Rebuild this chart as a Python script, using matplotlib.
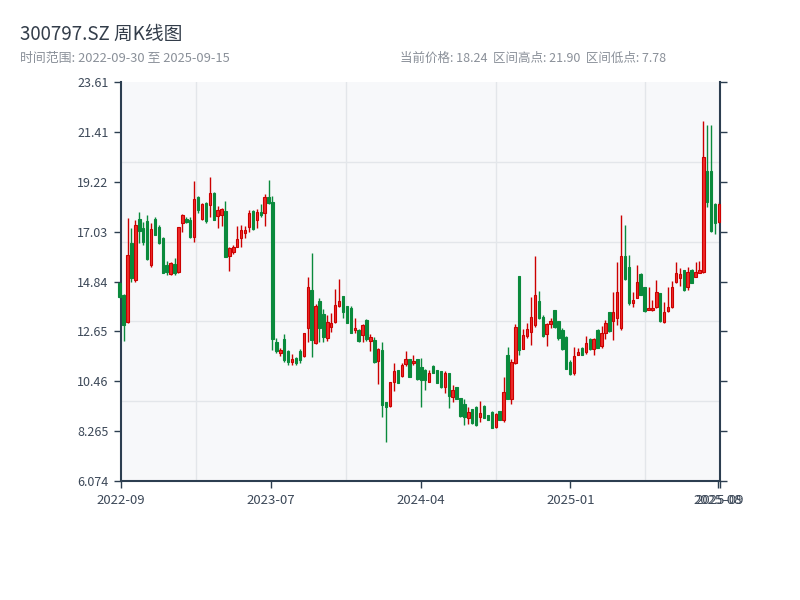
#!/usr/bin/env python3
# -*- coding: utf-8 -*-
"""Weekly candlestick chart for 300797.SZ."""

import numpy as np
import matplotlib
matplotlib.use("Agg")
import matplotlib.pyplot as plt
from matplotlib.ticker import FixedLocator

# Font: CJK first, DejaVu as fallback
plt.rcParams["font.family"] = ["Noto Sans CJK SC", "DejaVu Sans"]

# =============================================================================
# DATA (weekly OHLC)
# =============================================================================

open_prices = [
    14.76, 14.25, 13.07, 16.52, 14.91, 17.57, 17.20, 17.50, 15.56, 17.60,
    17.25, 16.75, 15.55, 15.17, 15.60, 15.27, 17.40, 17.60, 17.55, 16.81,
    18.55, 17.60, 18.30, 18.20, 18.75, 17.70, 17.76, 17.95, 15.96, 16.15,
    16.37, 16.74, 16.96, 17.25, 17.95, 17.54, 17.88, 17.84, 18.54, 18.35,
    12.20, 11.71, 12.30, 11.80, 11.32, 11.50, 11.80, 11.57, 12.78, 14.47,
    12.12, 14.00, 13.40, 12.34, 12.85, 13.07, 13.78, 14.20, 13.76, 13.70,
    12.70, 12.72, 12.49, 13.17, 12.24, 12.27, 11.34, 11.83, 9.53, 9.38,
    10.44, 10.95, 10.70, 11.21, 11.42, 11.24, 11.42, 11.10, 10.95, 10.44,
    11.13, 10.95, 10.90, 10.19, 10.80, 9.75, 10.19, 9.73, 9.48, 8.83,
    9.24, 9.34, 8.90, 9.38, 8.97, 9.12, 8.46, 9.16, 8.75, 11.60,
    9.70, 11.27, 15.08, 11.86, 12.44, 12.63, 12.93, 14.00, 13.30, 12.52,
    12.97, 13.58, 13.10, 12.70, 12.42, 11.30, 10.80, 11.62, 11.92, 11.75,
    12.30, 11.86, 12.73, 12.00, 12.59, 13.51, 13.12, 13.22, 12.78, 15.96,
    15.50, 13.91, 14.10, 15.19, 14.60, 13.59, 13.59, 13.73, 14.34, 13.07,
    13.56, 13.73, 14.83, 14.98, 15.34, 14.61, 15.37, 15.05, 15.23, 15.27,
    19.69, 19.69, 18.27, 17.47,
]
high_prices = [
    14.84, 14.30, 17.62, 17.18, 17.54, 17.91, 17.47, 17.76, 17.40, 17.69,
    17.32, 16.81, 15.74, 15.71, 15.86, 17.25, 17.81, 17.69, 17.69, 19.26,
    18.60, 18.30, 18.35, 19.42, 18.77, 18.16, 18.08, 18.38, 16.34, 16.44,
    17.28, 17.32, 17.28, 17.98, 17.98, 18.01, 18.27, 18.71, 19.30, 18.60,
    12.34, 11.90, 12.53, 11.83, 11.65, 11.54, 11.87, 12.59, 15.02, 16.08,
    13.85, 14.10, 13.62, 13.37, 13.44, 14.51, 14.95, 14.20, 13.76, 13.76,
    13.22, 12.74, 12.97, 13.18, 12.52, 12.39, 11.90, 12.20, 9.53, 10.44,
    11.24, 10.95, 11.24, 11.80, 11.43, 11.61, 11.43, 11.46, 10.98, 10.95,
    11.17, 10.96, 10.92, 10.90, 10.80, 10.29, 10.20, 9.74, 9.70, 9.34,
    9.25, 9.35, 9.60, 9.40, 8.98, 9.13, 9.05, 9.17, 10.66, 11.97,
    11.42, 12.97, 15.08, 12.75, 13.00, 14.17, 15.96, 14.42, 13.37, 13.00,
    13.22, 13.59, 13.10, 12.78, 12.44, 11.39, 11.97, 11.90, 11.97, 12.44,
    12.34, 12.38, 12.75, 12.88, 13.17, 13.52, 14.39, 15.68, 17.75, 17.32,
    16.00, 14.39, 15.56, 15.20, 14.61, 14.61, 14.02, 14.90, 14.35, 13.95,
    14.58, 14.87, 15.68, 15.42, 15.35, 15.49, 15.38, 15.71, 15.75, 21.90,
    21.72, 21.72, 18.30, 18.35,
]
low_prices = [
    14.10, 12.24, 13.00, 14.83, 14.83, 16.52, 16.44, 15.78, 15.49, 16.88,
    16.49, 15.20, 15.13, 15.13, 15.13, 15.23, 17.03, 17.43, 16.74, 16.59,
    17.87, 17.55, 17.43, 17.69, 17.54, 17.18, 17.28, 15.90, 15.32, 16.05,
    16.34, 16.37, 16.74, 17.03, 17.10, 17.18, 17.66, 17.28, 18.27, 11.83,
    11.68, 11.58, 11.32, 11.17, 11.17, 11.17, 11.24, 11.51, 12.20, 11.51,
    12.09, 12.20, 12.20, 12.24, 12.64, 13.03, 13.73, 13.25, 13.03, 12.56,
    12.59, 12.20, 12.20, 12.24, 11.78, 11.27, 10.32, 8.90, 7.78, 9.34,
    10.04, 10.36, 10.66, 11.13, 10.63, 11.17, 10.51, 9.34, 10.07, 10.44,
    10.80, 10.36, 10.17, 9.95, 9.29, 9.56, 9.66, 8.90, 8.53, 8.60,
    8.60, 8.50, 8.68, 8.83, 8.75, 8.39, 8.39, 8.75, 8.68, 9.66,
    9.48, 11.21, 11.60, 11.86, 12.34, 12.05, 12.85, 13.19, 12.42, 12.02,
    12.78, 12.81, 12.27, 11.83, 10.98, 10.73, 10.73, 11.60, 11.61, 11.65,
    11.83, 11.61, 11.90, 11.94, 12.30, 12.63, 12.27, 12.93, 12.70, 14.93,
    13.80, 13.73, 14.10, 14.25, 13.51, 13.59, 13.56, 13.70, 13.07, 13.03,
    13.51, 13.70, 14.76, 14.64, 14.44, 14.46, 14.76, 15.05, 15.23, 15.23,
    18.13, 17.03, 16.95, 17.42,
]
close_prices = [
    14.17, 12.95, 16.00, 14.98, 17.32, 17.07, 16.60, 15.82, 17.13, 16.90,
    16.52, 15.22, 15.25, 15.64, 15.20, 17.22, 17.76, 17.45, 16.80, 18.45,
    18.00, 18.27, 17.50, 18.74, 17.56, 18.00, 18.05, 15.92, 16.30, 16.37,
    16.71, 17.10, 17.10, 17.87, 17.13, 17.91, 17.76, 18.54, 18.30, 12.30,
    11.80, 11.83, 11.40, 11.30, 11.44, 11.25, 11.40, 12.56, 14.58, 12.27,
    13.76, 12.80, 12.40, 13.07, 13.03, 13.81, 13.98, 13.50, 13.04, 12.60,
    12.80, 12.22, 12.93, 12.30, 12.41, 11.30, 11.87, 9.41, 9.34, 10.41,
    10.92, 10.38, 11.17, 11.42, 10.66, 11.36, 10.54, 10.50, 10.50, 10.80,
    10.82, 10.39, 10.19, 10.80, 9.80, 10.07, 9.68, 8.93, 8.90, 9.12,
    8.62, 8.55, 9.07, 8.85, 8.76, 8.42, 9.02, 8.77, 9.98, 9.70,
    11.29, 12.83, 11.83, 12.49, 12.75, 13.29, 14.25, 13.25, 12.45, 12.97,
    13.10, 12.85, 12.34, 11.86, 11.00, 10.78, 11.56, 11.76, 11.63, 12.16,
    11.86, 12.30, 11.94, 12.58, 13.03, 12.66, 13.51, 14.39, 15.96, 14.95,
    13.88, 14.04, 14.80, 14.27, 13.53, 13.70, 13.70, 14.39, 13.09, 13.51,
    13.73, 14.61, 15.20, 15.19, 14.46, 15.27, 14.78, 15.27, 15.34, 20.30,
    18.35, 17.07, 17.40, 18.24,
]

# Label sumbu
x_tick_labels = ["2022-09", "2023-07", "2024-04", "2025-01", "2025-08", "2025-09"]
y_tick_values = [6.074, 8.265, 10.46, 12.65, 14.84, 17.03, 19.22, 21.41, 23.61]
y_tick_labels = ["6.074", "8.265", "10.46", "12.65", "14.84", "17.03",
                 "19.22", "21.41", "23.61"]

title_text = "300797.SZ 周K线图"
range_text = "时间范围: 2022-09-30 至 2025-09-15"
info_text = "当前价格: 18.24  区间高点: 21.90  区间低点: 7.78"

# =============================================================================
# STYLE
# =============================================================================

UP_FACE = "#ee2b2b"
UP_EDGE = "#cc0000"
DOWN_COLOR = "#0a8a3c"
AXIS_COLOR = "#2c3e50"
TEXT_COLOR = "#3c4858"
GRID_COLOR = "#e3e6ea"
BG_COLOR = "#f7f8fa"


def main():
    o = np.array(open_prices)
    h = np.array(high_prices)
    l = np.array(low_prices)
    c = np.array(close_prices)
    x = np.arange(len(o))
    up = c >= o

    fig = plt.figure(figsize=(8, 6), dpi=100)
    ax = fig.add_axes([0.15125, 0.1983, 0.749, 0.665])
    ax.set_facecolor(BG_COLOR)

    x_left, x_right = 0.33, len(o) - 1 + 0.3
    y_min, y_max = y_tick_values[0], y_tick_values[-1]

    # Grid latar (8 kolom x 5 baris)
    ax.xaxis.set_minor_locator(FixedLocator(np.linspace(x_left, x_right, 9)))
    ax.yaxis.set_minor_locator(FixedLocator(np.linspace(y_min, y_max, 6)))
    ax.grid(True, which="minor", color=GRID_COLOR, linewidth=1.0, zorder=0)
    ax.grid(False, which="major")
    ax.tick_params(which="minor", length=0)

    # Sumbu (wick)
    colors = np.where(up, UP_EDGE, DOWN_COLOR)
    ax.vlines(x, l, h, colors=colors, linewidth=1.0, zorder=2, clip_on=False)

    # Body
    bottoms = np.minimum(o, c)
    heights = np.maximum(np.abs(c - o), 0.04)
    ax.bar(x[up], heights[up], bottom=bottoms[up], width=0.62,
           color=UP_FACE, edgecolor=UP_EDGE, linewidth=0.8, zorder=3,
           clip_on=False)
    ax.bar(x[~up], heights[~up], bottom=bottoms[~up], width=0.62,
           color=DOWN_COLOR, edgecolor=DOWN_COLOR, linewidth=0.8, zorder=3,
           clip_on=False)

    ax.set_xlim(x_left, x_right)
    ax.set_ylim(y_min, y_max)

    # Tick y
    ax.set_yticks(y_tick_values)
    ax.set_yticklabels(y_tick_labels)
    ax.tick_params(axis="y", which="major", direction="out", length=5,
                   color=AXIS_COLOR, labelcolor=TEXT_COLOR, labelsize=9,
                   right=True, width=1, pad=4)

    # Tick x
    span = x_right - x_left
    x_pos = [x_left, x_left + span * 0.25, x_left + span * 0.5,
             x_left + span * 0.75, x_right - 0.6, x_right]
    ax.set_xticks(x_pos)
    ax.set_xticklabels(x_tick_labels)
    ax.tick_params(axis="x", which="major", direction="out", length=5,
                   color=AXIS_COLOR, labelcolor=TEXT_COLOR, labelsize=9.5,
                   width=1, pad=4)

    for side in ["left", "right", "bottom"]:
        ax.spines[side].set_color(AXIS_COLOR)
        ax.spines[side].set_linewidth(1.5)
    ax.spines["top"].set_visible(False)

    # Judul
    fig.text(0.025, 0.942, title_text, fontsize=13.5, color="#333d4a",
             va="center", ha="left")
    fig.text(0.025, 0.903, range_text, fontsize=9.3, color="#8a9099",
             va="center", ha="left")
    fig.text(0.5, 0.903, info_text, fontsize=9.0, color="#8a9099",
             va="center", ha="left")

    fig.savefig("out.png", dpi=100, facecolor="white")
    plt.close(fig)


if __name__ == "__main__":
    main()
